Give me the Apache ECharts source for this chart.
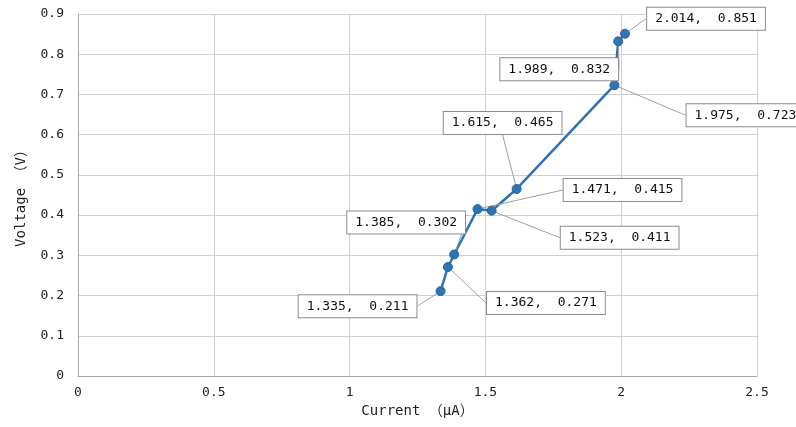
<!DOCTYPE html>
<html>
<head>
<meta charset="utf-8">
<script src="https://cdn.jsdelivr.net/npm/echarts@6/dist/echarts.min.js"></script>
<style>html,body{margin:0;padding:0;background:#fff}#c{width:796px;height:427px}</style>
</head>
<body>
<div id="c"></div>
<script>
const currents = [1.335, 1.362, 1.385, 1.471, 1.523, 1.615, 1.975, 1.989, 2.014];
const voltages = [0.211, 0.271, 0.302, 0.415, 0.411, 0.465, 0.723, 0.832, 0.851];
const xTitle = 'Current （μA）';
const yTitle = 'Voltage （V）';
// label box offsets (pixels) from each point
const labelOffsets = [[-83, 15], [98, 36], [-48, -32], [145, -19], [128, 27], [-14, -66], [131, 30], [-59, 28], [81, -15]];

const FONT = "'DejaVu Sans Mono','Liberation Mono','Noto Sans CJK SC',monospace";
const chart = echarts.init(document.getElementById('c'));
const pts = currents.map((x, i) => [x, voltages[i]]);
chart.setOption({
  animation: false,
  grid: {left: 78, right: 39, top: 14, bottom: 51},
  xAxis: {
    type: 'value', min: 0, max: 2.5, interval: 0.5,
    name: xTitle, nameLocation: 'middle', nameGap: 28,
    nameTextStyle: {fontFamily: FONT, fontSize: 14, color: '#222'},
    axisLine: {show: true, lineStyle: {color: '#a6a6a6'}},
    axisTick: {show: false},
    axisLabel: {fontFamily: FONT, fontSize: 13, color: '#222', margin: 10},
    splitLine: {show: true, lineStyle: {color: '#d0d0d0'}}
  },
  yAxis: {
    type: 'value', min: 0, max: 0.9, interval: 0.1,
    name: yTitle, nameLocation: 'middle', nameGap: 50,
    nameTextStyle: {fontFamily: FONT, fontSize: 14, color: '#222'},
    axisLine: {show: true, lineStyle: {color: '#a6a6a6'}},
    axisTick: {show: false},
    axisLabel: {fontFamily: FONT, fontSize: 13, color: '#222', margin: 14,
      formatter: v => (Math.round(v * 10) / 10).toString()},
    splitLine: {show: true, lineStyle: {color: '#d0d0d0'}}
  },
  series: [{
    type: 'line',
    data: pts,
    symbol: 'circle',
    symbolSize: 9,
    itemStyle: {color: '#2E74B5', borderColor: '#2863A0', borderWidth: 1},
    lineStyle: {color: '#2E74B5', width: 2.5},
    label: {
      show: true,
      position: 'inside',
      formatter: p => p.value[0].toFixed(3) + ',  ' + p.value[1].toFixed(3),
      fontFamily: FONT, fontSize: 13, color: '#111',
      backgroundColor: '#fff', borderColor: '#8c8c8c', borderWidth: 1,
      padding: [5, 8, 4, 8]
    },
    labelLine: {show: true, lineStyle: {color: '#a0a0a0', width: 1}},
    labelLayout: p => ({dx: labelOffsets[p.dataIndex][0], dy: labelOffsets[p.dataIndex][1]})
  }]
});
</script>
</body>
</html>
